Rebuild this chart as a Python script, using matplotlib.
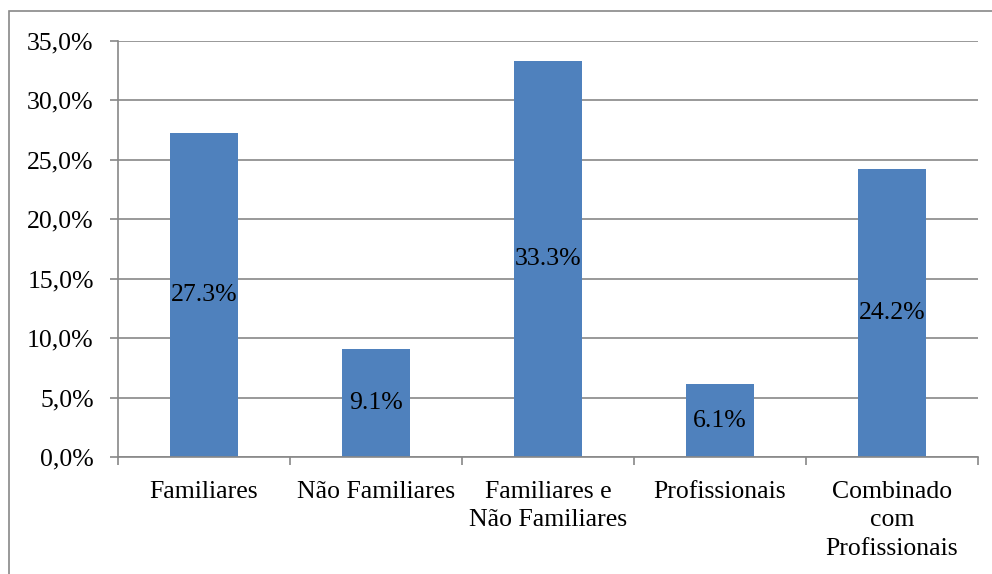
import matplotlib.pyplot as plt
from matplotlib.patches import Rectangle
from matplotlib.ticker import FuncFormatter, MultipleLocator

plt.rcParams["font.family"] = "Liberation Serif"
plt.rcParams["font.size"] = 18.5

categories = ["Familiares", "Não Familiares", "Familiares e\nNão Familiares",
              "Profissionais", "Combinado\ncom\nProfissionais"]
values = [27.3, 9.1, 33.3, 6.1, 24.2]
labels = ["27.3%", "9.1%", "33.3%", "6.1%", "24.2%"]

grid_color = "#888888"
bar_color = "#4F81BD"

fig = plt.figure(figsize=(9.92, 5.74), dpi=100)
ax = fig.add_axes([118 / 992, 1 - 457 / 574, 860 / 992, 416 / 574])

# outer chart border (cut off at right and bottom like the reference)
fig.patches.append(Rectangle((9 / 992, -0.1), 1.1, 1 - 11 / 574 + 0.1,
                             transform=fig.transFigure, fill=False,
                             edgecolor="#888888", linewidth=1.2))

x = range(len(categories))
bars = ax.bar(x, values, width=0.4, color=bar_color, zorder=2)
for b, lab, v in zip(bars, labels, values):
    ax.text(b.get_x() + b.get_width() / 2, v / 2, lab, ha="center", va="center",
            fontsize=18.5, color="black", zorder=3)

ax.set_xlim(-0.5, len(categories) - 0.5)
ax.set_ylim(0, 35)
ax.yaxis.set_major_locator(MultipleLocator(5))
ax.yaxis.set_major_formatter(FuncFormatter(lambda v, p: f"{v:.1f}%".replace(".", ",")))
ax.yaxis.grid(True, color=grid_color, linewidth=1.2, zorder=0)
ax.set_axisbelow(True)

# category ticks sit between bars
ax.set_xticks([i - 0.5 for i in range(len(categories) + 1)])
ax.set_xticklabels([])
ax.set_xticks(list(x), minor=True)
ax.set_xticklabels(categories, minor=True, fontsize=18.5, linespacing=1.4)
ax.tick_params(axis="x", which="minor", length=0, pad=17)
ax.tick_params(axis="x", which="major", length=5.5, color=grid_color, width=1.2, direction="out")
ax.tick_params(axis="y", length=5.5, color=grid_color, width=1.2, labelsize=18.5, pad=12)

for s in ["top", "right"]:
    ax.spines[s].set_visible(False)
for s in ["left", "bottom"]:
    ax.spines[s].set_color(grid_color)
    ax.spines[s].set_linewidth(1.2)

fig.savefig("out.png", dpi=100)
